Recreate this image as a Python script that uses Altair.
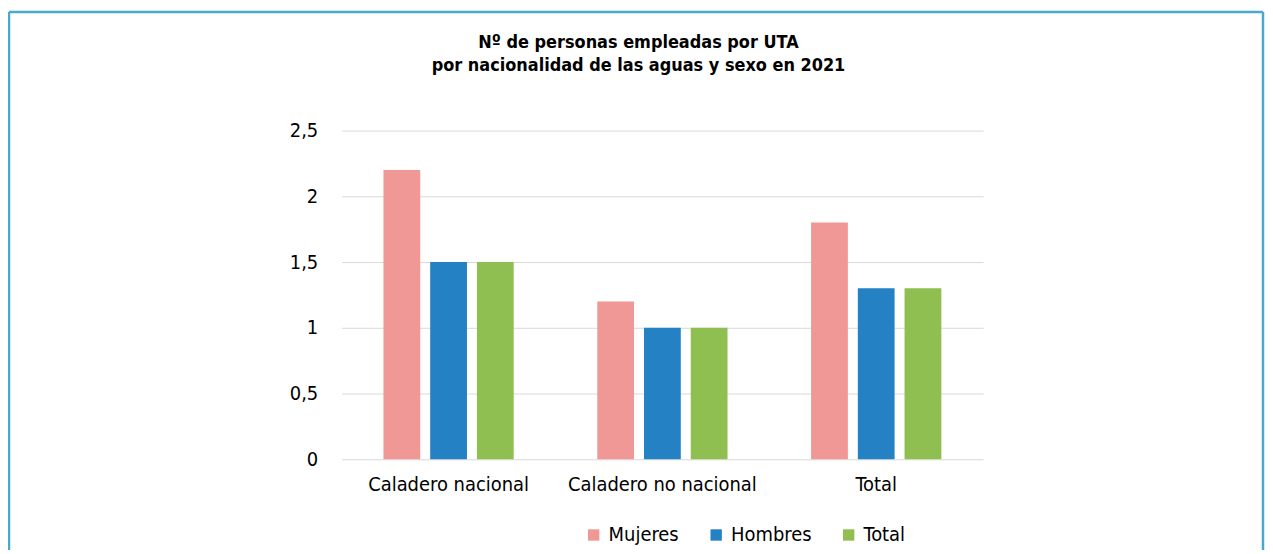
import altair as alt
import pandas as pd

categorias = ["Caladero nacional", "Caladero no nacional", "Total"]
series = ["Mujeres", "Hombres", "Total"]
mujeres = [2.2, 1.2, 1.8]
hombres = [1.5, 1.0, 1.3]
total = [1.5, 1.0, 1.3]
colores = ["#F09896", "#2481C3", "#8FBF50"]
y_ticks = [0, 0.5, 1, 1.5, 2, 2.5]
titulo = ["Nº de personas empleadas por UTA",
          "por nacionalidad de las aguas y sexo en 2021"]

rows = []
for i, c in enumerate(categorias):
    for s, vals in zip(series, [mujeres, hombres, total]):
        rows.append({"categoria": c, "serie": s, "valor": vals[i]})
df = pd.DataFrame(rows)

FONT = "DejaVu Sans Condensed"

bars = alt.Chart(df).mark_bar().encode(
    x=alt.X("categoria:N", sort=categorias, title=None,
            scale=alt.Scale(paddingInner=0, paddingOuter=0),
            axis=alt.Axis(labelAngle=0, domain=False, ticks=False, grid=False,
                          labelPadding=15, labelFontSize=20, labelColor="#000",
                          labelFont=FONT, labelLimit=0)),
    xOffset=alt.XOffset("serie:N", sort=series,
                        scale=alt.Scale(paddingInner=0.213, paddingOuter=0.894)),
    y=alt.Y("valor:Q", title=None,
            scale=alt.Scale(domain=[0, 2.5], nice=False),
            axis=alt.Axis(values=y_ticks, domain=False, ticks=False,
                          labelPadding=24, labelFontSize=20, labelColor="#000",
                          labelFont=FONT, gridColor="#d9d9d9",
                          labelExpr="replace(format(datum.value, '~g'), '.', ',')")),
    color=alt.Color("serie:N", sort=series,
                    scale=alt.Scale(domain=series, range=colores),
                    legend=alt.Legend(title=None, orient="none", direction="horizontal",
                                      legendX=243, legendY=396,
                                      symbolType="square", symbolSize=130,
                                      symbolStrokeWidth=0, labelFontSize=20,
                                      labelFont=FONT, labelColor="#000",
                                      columnPadding=27, labelOffset=5)),
)

frame_df = pd.DataFrame({"a": [0]})
frame_color = "#4AA8C9"
left = alt.Chart(frame_df).mark_rule(color=frame_color, strokeWidth=2.5).encode(
    x=alt.value(-334), y=alt.value(-119), y2=alt.value(430))
top = alt.Chart(frame_df).mark_rule(color=frame_color, strokeWidth=2.5).encode(
    x=alt.value(-334), x2=alt.value(925), y=alt.value(-119))
right = alt.Chart(frame_df).mark_rule(color=frame_color, strokeWidth=2.5).encode(
    x=alt.value(925), y=alt.value(-119), y2=alt.value(430))

t1 = alt.Chart(frame_df).mark_text(font=FONT, fontSize=18, fontWeight="bold",
                                   color="#000", align="center", baseline="middle").encode(
    x=alt.value(298), y=alt.value(-88), text=alt.value(titulo[0]))
t2 = alt.Chart(frame_df).mark_text(font=FONT, fontSize=18, fontWeight="bold",
                                   color="#000", align="center", baseline="middle").encode(
    x=alt.value(298), y=alt.value(-65), text=alt.value(titulo[1]))

chart = alt.layer(left, top, right, t1, t2, bars).properties(
    width=644, height=330,
    background="white",
    padding={"left": 335, "top": 122, "right": 283, "bottom": 90},
    autosize=alt.AutoSizeParams(type="none"),
).configure_view(strokeWidth=0, stroke="transparent")

chart.save("out.html", embed_options={"renderer": "svg", "actions": False})
